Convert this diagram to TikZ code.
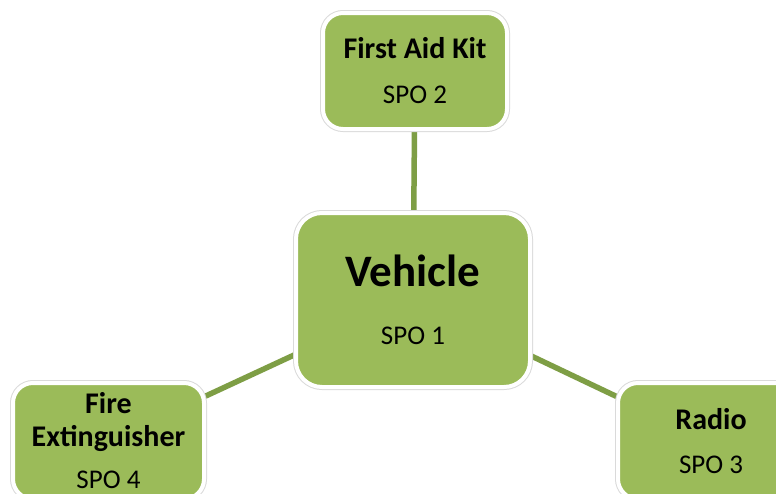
\documentclass[tikz,border=0pt]{standalone}
\usepackage{fontspec}
\setmainfont{Carlito}
\usepackage{xcolor}
\usepackage{tikz}
\usetikzlibrary{positioning, backgrounds}
\definecolor{spo-green}{HTML}{9BBB59}
\definecolor{spo-link}{HTML}{7E9E45}
\definecolor{spo-edge}{HTML}{DADADA}

\begin{document}
\begin{tikzpicture}[
		x=1pt, y=-1pt,
		spobox/.style={
			fill=spo-green, draw=white, line width=4pt,
			preaction={draw=spo-edge, line width=6pt},
			rounded corners=20pt,
			inner sep=0pt, outer sep=0pt,
			align=center, text=black,
			font=\fontsize{27}{45}\selectfont
		},
		mainbox/.style={
			spobox, rounded corners=26pt,
			font=\fontsize{27}{58}\selectfont
		},
		link/.style={
			draw=spo-link, line width=5.5pt
		}
		]
		
		\useasboundingbox (0,0) rectangle (776,493);
		
		% zentrale Box
		\node[mainbox, minimum width=234pt, minimum height=174pt] (vehicle) at (413,300)
		{{\fontsize{45}{58}\selectfont\bfseries Vehicle}\\SPO 1};
		
		% oben
		\node[spobox, minimum width=184pt, minimum height=116pt] (aidkit) at (415,71)
		{{\fontsize{30}{45}\selectfont\bfseries First Aid Kit}\\SPO 2};
		
		% rechts unten
		\node[spobox, minimum width=186pt, minimum height=116pt, font=\fontsize{27}{44}\selectfont] (radio) at (711,441)
		{{\fontsize{30}{44}\selectfont\bfseries Radio}\\SPO 3};
		
		% links unten
		\node[spobox, minimum width=191pt, minimum height=116pt, font=\fontsize{27}{33}\selectfont] (extinguisher) at (108.5,441)
		{{\fontsize{30}{33}\selectfont\bfseries Fire}\\{\fontsize{30}{33}\selectfont\bfseries Extinguisher}\\[9pt]SPO 4};
		
		% Verbindungen hinter den Boxen
		\begin{pgfonlayer}{background}
			\fill[white] (0,0) rectangle (776,493);
			\draw[link] (vehicle) -- (aidkit);
			\draw[link] (vehicle) -- (radio);
			\draw[link] (vehicle) -- (extinguisher);
		\end{pgfonlayer}
		
	\end{tikzpicture}
\end{document}
